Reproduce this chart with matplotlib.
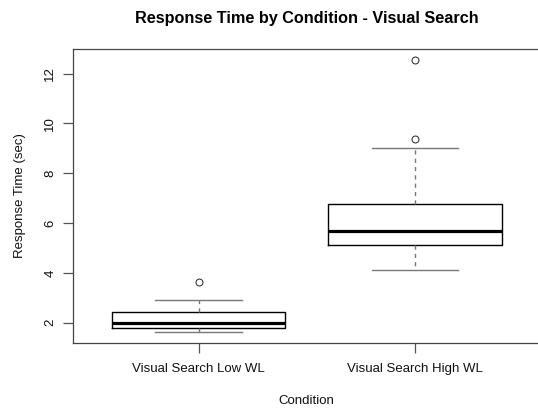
import matplotlib.pyplot as plt

plt.rcParams['font.family'] = ['Liberation Sans', 'DejaVu Sans']

# Box summary values
conditions = ['Visual Search Low WL', 'Visual Search High WL']
q1 = [1.77, 5.12]
median = [2.00, 5.67]
q3 = [2.41, 6.75]
whisker_low = [1.64, 4.10]
whisker_high = [2.92, 9.03]
outliers = [[3.62], [9.39, 12.54]]
y_ticks = [2, 4, 6, 8, 10, 12]

stats = []
for i in range(len(conditions)):
    stats.append({
        'label': conditions[i],
        'q1': q1[i], 'med': median[i], 'q3': q3[i],
        'whislo': whisker_low[i], 'whishi': whisker_high[i],
        'fliers': outliers[i],
    })

fig = plt.figure(figsize=(5.38, 4.08), dpi=100)
ax = fig.add_axes([0.1357, 0.1605, 0.869, 0.7185])

ax.bxp(stats, positions=[1, 2], widths=0.8, capwidths=0.4,
       boxprops=dict(color='black', linewidth=1.0),
       medianprops=dict(color='black', linewidth=2.3),
       whiskerprops=dict(color='#777777', linewidth=1.0, linestyle=(0, (3, 3))),
       capprops=dict(color='#777777', linewidth=1.0),
       flierprops=dict(marker='o', markerfacecolor='none', markeredgecolor='#222222',
                       markersize=5, markeredgewidth=0.7))

ax.set_xlim(0.42, 2.58)
ax.set_ylim(1.204, 12.976)
ax.set_yticks(y_ticks)
ax.set_yticklabels([str(t) for t in y_ticks], rotation=90, va='center')

for s in ax.spines.values():
    s.set_color('#444444')
    s.set_linewidth(0.9)
ax.spines['right'].set_visible(False)
ax.tick_params(direction='out', length=7, width=0.9, color='#555555',
               labelsize=9.5, labelcolor='#111111')
ax.tick_params(axis='x', pad=7.5)
ax.tick_params(axis='y', pad=5)

ax.set_title('Response Time by Condition - Visual Search', fontsize=11.7,
             fontweight='bold', pad=19.3)
ax.set_xlabel('Condition', fontsize=9.5, labelpad=14.5, color='#111111')
ax.set_ylabel('Response Time (sec)', fontsize=9.5, labelpad=13, color='#111111')

fig.savefig('out.png', dpi=100)
